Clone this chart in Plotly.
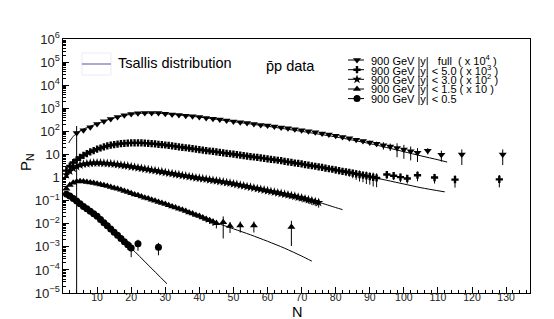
import numpy as np
import plotly.graph_objects as go

# ---------------- data (log10 of P_N) ----------------
# |y| full (x 10^4), even N
full_N = [4, 6, 8, 10, 12, 14, 16, 18, 20, 22, 24, 26, 28, 30, 32, 34, 36, 38, 40, 42,
          44, 46, 48, 50, 52, 54, 56, 58, 60, 62, 64, 66, 68, 70, 72, 74, 76, 78, 80, 82,
          84, 86, 88, 90, 92, 94, 96, 98, 100, 102, 104, 107, 111, 117, 129]
full_logP = [1.93, 2.05, 2.18, 2.32, 2.44, 2.54, 2.62, 2.70, 2.75, 2.78, 2.80, 2.80, 2.79, 2.76,
             2.73, 2.71, 2.68, 2.65, 2.62, 2.58, 2.55, 2.51, 2.47, 2.43, 2.40, 2.36, 2.32, 2.28,
             2.25, 2.21, 2.17, 2.13, 2.09, 2.05, 2.00, 1.96, 1.91, 1.86, 1.81, 1.76, 1.70, 1.64,
             1.58, 1.52, 1.46, 1.40, 1.34, 1.28, 1.21, 1.14, 1.07, 1.16, 0.99, 1.00, 1.00]
full_rel = [1.0, 0.08, 0.06, 0.06, 0.05, 0.05, 0.05, 0.05, 0.05, 0.05, 0.05, 0.05, 0.05, 0.05,
            0.05, 0.05, 0.05, 0.05, 0.05, 0.05, 0.05, 0.05, 0.05, 0.05, 0.05, 0.05, 0.05, 0.05,
            0.06, 0.06, 0.06, 0.06, 0.06, 0.06, 0.07, 0.07, 0.08, 0.08, 0.1, 0.12, 0.12, 0.15,
            0.15, 0.2, 0.25, 0.35, 0.35, 0.6, 0.6, 0.6, 0.6, 0.3, 0.5, 0.65, 0.65]

# |y| < 5.0 (x 10^3)
y50_N = [1, 2, 3, 4, 5, 6, 7, 8, 9, 10, 11, 12, 13, 14, 15, 16, 17, 18, 19, 20,
         21, 22, 23, 24, 25, 26, 27, 28, 29, 30, 31, 32, 33, 34, 35, 36, 37, 38, 39, 40,
         41, 42, 43, 44, 45, 46, 47, 48, 49, 50, 51, 52, 53, 54, 55, 56, 57, 58, 59, 60,
         61, 62, 63, 64, 65, 66, 67, 68, 69, 70, 71, 72, 73, 74, 75, 76, 77, 78, 79, 80,
         81, 82, 83, 84, 85, 86, 87, 88, 89, 90, 91, 92, 95, 97, 99, 101, 104, 109, 115, 128]
y50_logP = [0.30, 0.50, 0.65, 0.77, 0.87, 0.96, 1.04, 1.11, 1.17, 1.23, 1.28, 1.33, 1.37, 1.40,
            1.43, 1.45, 1.47, 1.48, 1.49, 1.50, 1.50, 1.50, 1.50, 1.49, 1.48, 1.47, 1.46, 1.44,
            1.43, 1.41, 1.39, 1.37, 1.35, 1.33, 1.31, 1.29, 1.27, 1.25, 1.23, 1.21, 1.19, 1.17,
            1.15, 1.13, 1.11, 1.09, 1.07, 1.05, 1.03, 1.01, 0.99, 0.97, 0.95, 0.93, 0.91, 0.89,
            0.87, 0.85, 0.83, 0.81, 0.79, 0.77, 0.75, 0.73, 0.70, 0.68, 0.66, 0.63, 0.61, 0.59,
            0.56, 0.54, 0.51, 0.49, 0.46, 0.44, 0.41, 0.38, 0.36, 0.33, 0.30, 0.27, 0.25, 0.22,
            0.19, 0.16, 0.13, 0.10, 0.07, 0.04, 0.01, -0.02, 0.13, 0.08, 0.02, -0.04, 0.10, 0.00,
            -0.09, -0.08]
y50_rel = [0.4, 0.35, 0.3, 0.25, 0.2, 0.15, 0.1, 0.1, 0.08, 0.08, 0.06, 0.06, 0.06, 0.06,
           0.06, 0.06, 0.06, 0.06, 0.06, 0.06, 0.06, 0.06, 0.06, 0.06, 0.06, 0.06, 0.06, 0.06,
           0.06, 0.06, 0.06, 0.06, 0.06, 0.06, 0.06, 0.06, 0.06, 0.06, 0.06, 0.06, 0.06, 0.06,
           0.06, 0.06, 0.06, 0.06, 0.06, 0.06, 0.06, 0.06, 0.06, 0.06, 0.06, 0.06, 0.06, 0.06,
           0.06, 0.06, 0.06, 0.06, 0.08, 0.08, 0.08, 0.1, 0.1, 0.1, 0.12, 0.12, 0.12, 0.15,
           0.15, 0.15, 0.15, 0.2, 0.2, 0.2, 0.25, 0.25, 0.25, 0.3, 0.3, 0.3, 0.35, 0.35,
           0.4, 0.45, 0.5, 0.5, 0.55, 0.55, 0.6, 0.6, 0.35, 0.35, 0.4, 0.4, 0.45, 0.45,
           0.55, 0.55]

# |y| < 3.0 (x 10^2)
y30_N = [1, 2, 3, 4, 5, 6, 7, 8, 9, 10, 11, 12, 13, 14, 15, 16, 17, 18, 19, 20,
         21, 22, 23, 24, 25, 26, 27, 28, 29, 30, 31, 32, 33, 34, 35, 36, 37, 38, 39, 40,
         41, 42, 43, 44, 45, 46, 47, 48, 49, 50, 51, 52, 53, 54, 55, 56, 57, 58, 59, 60,
         61, 62, 63, 64, 65, 66, 67, 68, 69, 70, 71, 72, 73, 74, 75]
y30_logP = [0.12, 0.28, 0.40, 0.48, 0.54, 0.58, 0.60, 0.62, 0.63, 0.63, 0.63, 0.62, 0.61, 0.60,
            0.58, 0.56, 0.54, 0.52, 0.50, 0.47, 0.45, 0.42, 0.40, 0.37, 0.35, 0.32, 0.30, 0.27,
            0.25, 0.22, 0.19, 0.17, 0.14, 0.12, 0.09, 0.07, 0.04, 0.02, -0.01, -0.03, -0.05, -0.07,
            -0.10, -0.12, -0.14, -0.17, -0.19, -0.22, -0.24, -0.27, -0.30, -0.33, -0.36, -0.39,
            -0.42, -0.45, -0.48, -0.51, -0.54, -0.57, -0.60, -0.63, -0.66, -0.69, -0.72, -0.75,
            -0.78, -0.81, -0.85, -0.88, -0.92, -0.96, -1.00, -1.04, -1.08]
y30_rel = [0.2, 0.15, 0.1, 0.08, 0.06, 0.05, 0.05, 0.05, 0.05, 0.05, 0.05, 0.05, 0.05, 0.05,
           0.05, 0.05, 0.05, 0.05, 0.05, 0.05, 0.05, 0.05, 0.05, 0.05, 0.05, 0.05, 0.05, 0.05,
           0.05, 0.05, 0.05, 0.05, 0.05, 0.05, 0.05, 0.05, 0.05, 0.05, 0.05, 0.05, 0.06, 0.06,
           0.06, 0.06, 0.07, 0.07, 0.07, 0.08, 0.08, 0.08, 0.1, 0.1, 0.1, 0.12, 0.12, 0.12,
           0.15, 0.15, 0.15, 0.18, 0.18, 0.2, 0.2, 0.22, 0.22, 0.25, 0.25, 0.28, 0.28, 0.3,
           0.3, 0.32, 0.35, 0.35, 0.4]

# |y| < 1.5 (x 10)
y15_N = [1, 2, 3, 4, 5, 6, 7, 8, 9, 10, 11, 12, 13, 14, 15, 16, 17, 18, 19, 20,
         21, 22, 23, 24, 25, 26, 27, 28, 29, 30, 31, 32, 33, 34, 35, 36, 37, 38, 39, 40,
         41, 42, 43, 44, 45, 47, 49, 52, 56, 67]
y15_logP = [-0.48, -0.32, -0.22, -0.17, -0.16, -0.17, -0.19, -0.21, -0.24, -0.27, -0.30, -0.33,
            -0.37, -0.41, -0.45, -0.49, -0.53, -0.58, -0.63, -0.68, -0.73, -0.77, -0.82, -0.87,
            -0.91, -0.96, -1.01, -1.06, -1.10, -1.15, -1.20, -1.25, -1.30, -1.35, -1.40, -1.45,
            -1.51, -1.56, -1.62, -1.67, -1.73, -1.79, -1.85, -1.91, -1.98, -1.94, -2.10, -2.08,
            -2.08, -2.14]
y15_rel = [0.05, 0.04, 0.03, 0.03, 0.03, 0.03, 0.03, 0.03, 0.03, 0.03, 0.03, 0.03, 0.03, 0.03,
           0.03, 0.03, 0.03, 0.03, 0.03, 0.03, 0.04, 0.04, 0.04, 0.04, 0.05, 0.05, 0.05, 0.06,
           0.06, 0.07, 0.08, 0.08, 0.1, 0.1, 0.12, 0.15, 0.15, 0.2, 0.2, 0.25, 0.25, 0.3,
           0.3, 0.35, 0.4, 0.8, 0.5, 0.5, 0.5, 0.85]

# |y| < 0.5
y05_N = [1, 2, 3, 4, 5, 6, 7, 8, 9, 10, 11, 12, 13, 14, 15, 16, 17, 18, 19, 20, 22, 28]
y05_logP = [-0.72, -0.80, -0.91, -1.02, -1.14, -1.25, -1.35, -1.46, -1.57, -1.68, -1.82, -1.96,
            -2.09, -2.23, -2.37, -2.50, -2.64, -2.78, -2.91, -3.05, -2.87, -3.02]
y05_rel = [0.03, 0.03, 0.03, 0.03, 0.03, 0.03, 0.03, 0.03, 0.03, 0.03, 0.04, 0.04, 0.05, 0.05,
           0.08, 0.08, 0.1, 0.2, 0.4, 0.6, 0.5, 0.55]

# Tsallis distribution curves (log10 P_N)
ts_full_N = [1.7, 2, 3, 4, 5, 6, 8, 10, 12, 14, 16, 18, 20, 22, 24, 26, 28, 30, 34, 38, 42, 46,
             50, 55, 60, 65, 70, 75, 80, 85, 90, 95, 100, 105, 110, 112.7]
ts_full_logP = [1.50, 1.58, 1.78, 1.92, 2.02, 2.10, 2.22, 2.33, 2.44, 2.54, 2.62, 2.69, 2.74,
                2.77, 2.79, 2.79, 2.78, 2.76, 2.71, 2.65, 2.58, 2.50, 2.42, 2.32, 2.22, 2.11,
                2.00, 1.88, 1.76, 1.62, 1.47, 1.30, 1.12, 0.94, 0.77, 0.67]
ts_50_N = [1, 2, 4, 6, 8, 10, 12, 14, 16, 18, 20, 22, 24, 26, 30, 35, 40, 45, 50, 55, 60, 65,
           70, 75, 80, 85, 90, 95, 100, 105, 112]
ts_50_logP = [0.35, 0.52, 0.78, 0.97, 1.12, 1.24, 1.33, 1.40, 1.45, 1.48, 1.50, 1.50, 1.49,
              1.47, 1.41, 1.31, 1.21, 1.11, 1.01, 0.91, 0.81, 0.70, 0.59, 0.46, 0.33, 0.19,
              0.04, -0.12, -0.28, -0.44, -0.62]
ts_30_N = [1, 2, 4, 6, 8, 10, 12, 14, 16, 18, 20, 25, 30, 35, 40, 45, 50, 55, 60, 65, 70, 75,
           80, 82]
ts_30_logP = [0.15, 0.30, 0.49, 0.58, 0.62, 0.63, 0.62, 0.60, 0.56, 0.52, 0.47, 0.35, 0.22,
              0.09, -0.03, -0.14, -0.27, -0.42, -0.57, -0.72, -0.88, -1.07, -1.30, -1.39]
ts_15_N = [1, 2, 3, 4, 6, 8, 10, 12, 15, 20, 25, 30, 35, 40, 45, 50, 55, 60, 65, 70, 73]
ts_15_logP = [-0.45, -0.30, -0.21, -0.17, -0.16, -0.21, -0.27, -0.33, -0.45, -0.68, -0.91,
              -1.15, -1.40, -1.66, -1.96, -2.22, -2.48, -2.76, -3.06, -3.40, -3.62]
ts_05_N = [0.5, 1, 2, 3, 4, 6, 8, 10, 12, 15, 20, 25, 30.5]
ts_05_logP = [-0.69, -0.72, -0.80, -0.90, -1.01, -1.24, -1.46, -1.68, -1.96, -2.37, -3.05,
              -3.79, -4.60]

legend_labels = ["900 GeV |y|   full  ( x 10<sup>4</sup> )",
                 "900 GeV |y| < 5.0 ( x 10<sup>3</sup> )",
                 "900 GeV |y| < 3.0 ( x 10<sup>2</sup> )",
                 "900 GeV |y| < 1.5 ( x 10 )",
                 "900 GeV |y| < 0.5"]

# ---------------- figure ----------------
W, H = 554, 319
L, R, T, B = 55, 32, 31, 34
PW, PH = W - L - R, H - T - B
FONT = "Liberation Sans, Arial, Helvetica, sans-serif"


def px2paper(px, py):
    return (px - L) / PW, (H - B - py) / PH


fig = go.Figure()

series = [
    (full_N, full_logP, full_rel, "triangle-down", 7),
    (y50_N, y50_logP, y50_rel, "cross", 6),
    (y30_N, y30_logP, y30_rel, "star", 7),
    (y15_N, y15_logP, y15_rel, "triangle-up", 7),
    (y05_N, y05_logP, y05_rel, "circle", 7),
]
curves = [(ts_full_N, ts_full_logP), (ts_50_N, ts_50_logP), (ts_30_N, ts_30_logP),
          (ts_15_N, ts_15_logP), (ts_05_N, ts_05_logP)]

for cx, cl in curves:
    fig.add_trace(go.Scatter(x=cx, y=10 ** np.array(cl), mode="lines",
                             line=dict(color="black", width=1, shape="spline", smoothing=0.8),
                             hoverinfo="skip", showlegend=False))

for nx, lp, rel, sym, sz in series:
    p = 10 ** np.array(lp)
    err = p * np.array(rel)
    fig.add_trace(go.Scatter(
        x=nx, y=p, mode="markers",
        marker=dict(symbol=sym, size=sz, color="black", line=dict(width=0)),
        error_y=dict(type="data", array=err, arrayminus=np.minimum(err, p - 1e-8),
                     color="black", thickness=1, width=0),
        showlegend=False))

# legend drawn on an overlay axis in pixel units
leg_y = [52, 61.7, 71.3, 81, 90.6]
for (nx, lp, rel, sym, sz), yy, lab in zip(series, leg_y, legend_labels):
    fig.add_trace(go.Scatter(x=[340, 356], y=[yy, yy], mode="lines", xaxis="x2", yaxis="y2",
                             line=dict(color="black", width=1), showlegend=False, hoverinfo="skip"))
    fig.add_trace(go.Scatter(x=[349], y=[yy], mode="markers", xaxis="x2", yaxis="y2",
                             marker=dict(symbol=sym, size=sz, color="black"),
                             showlegend=False, hoverinfo="skip"))
    fig.add_annotation(x=362, y=yy, xref="x2", yref="y2", text=lab, showarrow=False,
                       xanchor="left", yanchor="middle", borderpad=0,
                       font=dict(family=FONT, size=11, color="black"))

# Tsallis legend sample
fig.add_shape(type="rect", x0=74, x1=103, y0=45, y1=67, xref="x2", yref="y2",
              line=dict(color="#ececf2", width=1), fillcolor="rgba(0,0,0,0)")
fig.add_shape(type="line", x0=74, x1=103, y0=56, y1=56, xref="x2", yref="y2",
              line=dict(color="#7a7ab8", width=1.3))
fig.add_annotation(x=108, y=55, xref="x2", yref="y2", text="Tsallis distribution",
                   showarrow=False, xanchor="left", yanchor="middle",
                   font=dict(family=FONT, size=14.5, color="black"))
fig.add_annotation(x=256, y=58, xref="x2", yref="y2", text="p\u0304p data",
                   showarrow=False, xanchor="left", yanchor="middle",
                   font=dict(family=FONT, size=14.5, color="black"))

# axis titles (paper coordinates, placed by pixel)
nx_, ny_ = px2paper(289, 304)
fig.add_annotation(x=nx_, y=ny_, xref="paper", yref="paper", text="N", showarrow=False,
                   xanchor="center", yanchor="middle",
                   font=dict(family=FONT, size=14.5, color="black"))
px_, py_ = px2paper(18, 154)
fig.add_annotation(x=px_, y=py_, xref="paper", yref="paper", text="P<sub>N</sub>",
                   showarrow=False, xanchor="center", yanchor="middle", textangle=-90,
                   font=dict(family=FONT, size=15, color="black"))

fig.update_layout(
    width=W, height=H,
    margin=dict(l=L, r=R, t=T, b=B, pad=0, autoexpand=False),
    paper_bgcolor="white", plot_bgcolor="white",
    showlegend=False,
    font=dict(family=FONT, color="black"),
    xaxis=dict(range=[0, 137], tickmode="array", tickvals=[10, 20, 30, 40, 50, 60, 70, 80, 90, 100, 110, 120, 130],
               ticks="inside", ticklen=6, tickcolor="black", showgrid=False, zeroline=False,
               showline=True, linecolor="black", linewidth=1, mirror=True, automargin=False,
               ticklabelstandoff=-6,
               tickfont=dict(family=FONT, size=10.5, color="#222"),
               minor=dict(tickmode="linear", tick0=0, dtick=2, ticks="inside", ticklen=3,
                          tickcolor="black", showgrid=False)),
    yaxis=dict(type="log", range=[-5, 6], dtick=1, exponentformat="power",
               ticks="inside", ticklen=6, tickcolor="black", showgrid=False, zeroline=False,
               showline=True, linecolor="black", linewidth=1, mirror=True, automargin=False,
               tickfont=dict(family=FONT, size=10.5, color="#222"),
               minor=dict(ticks="inside", ticklen=3, dtick="D1", tickcolor="black", showgrid=False)),
    xaxis2=dict(overlaying="x", range=[L, W - R], visible=False, fixedrange=True, automargin=False),
    yaxis2=dict(overlaying="y", range=[H - B, T], visible=False, fixedrange=True, anchor="x2",
                automargin=False),
)

fig.write_html("out.html")
